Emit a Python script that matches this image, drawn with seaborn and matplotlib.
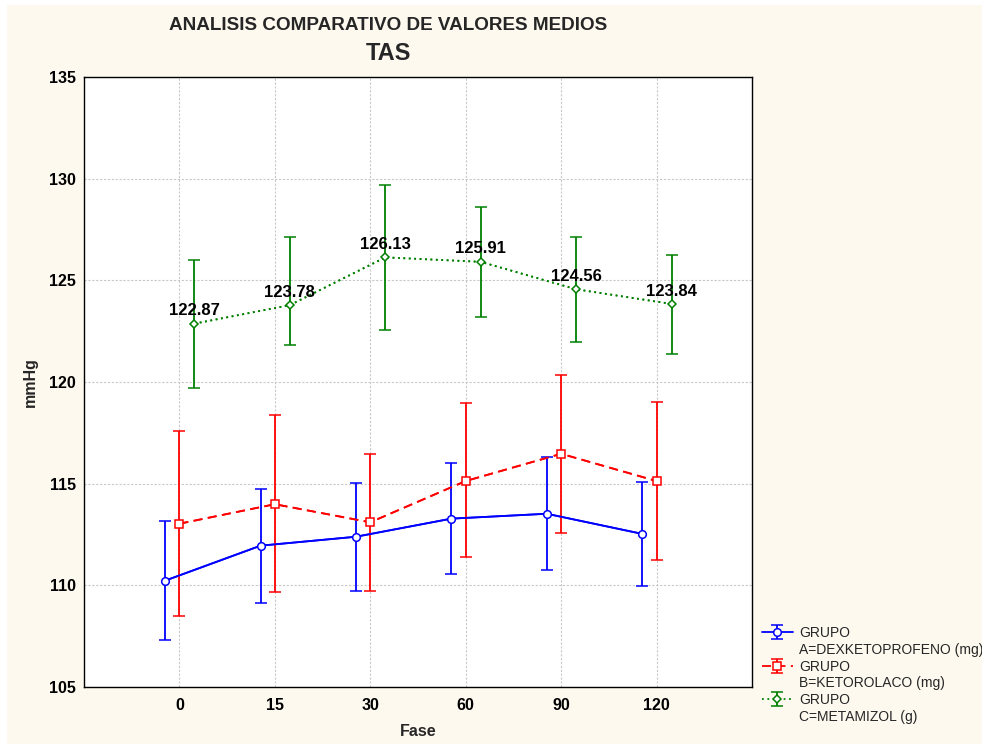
import numpy as np
import pandas as pd
import matplotlib
matplotlib.use("Agg")
import matplotlib.pyplot as plt
from matplotlib.patches import Rectangle
from matplotlib.lines import Line2D
import seaborn as sns

# ---- data ----
fases = ["0", "15", "30", "60", "90", "120"]
grupos = ["GRUPO\nA=DEXKETOPROFENO (mg)", "GRUPO\nB=KETOROLACO (mg)", "GRUPO\nC=METAMIZOL (g)"]

media_a = [110.23, 111.95, 112.39, 113.28, 113.52, 112.53]
inf_a = [107.31, 109.15, 109.74, 110.56, 110.75, 109.98]
sup_a = [113.18, 114.76, 115.05, 116.03, 116.31, 115.08]

media_b = [113.03, 113.99, 113.10, 115.13, 116.47, 115.13]
inf_b = [108.51, 109.66, 109.70, 111.41, 112.56, 111.26]
sup_b = [117.59, 118.38, 116.47, 118.95, 120.35, 119.03]

media_c = [122.87, 123.78, 126.13, 125.91, 124.56, 123.84]
inf_c = [119.72, 121.82, 122.55, 123.20, 121.95, 121.38]
sup_c = [125.99, 127.13, 129.69, 128.60, 127.13, 126.27]

# ---- styles ----
colores = ["#0000ff", "#ff0000", "#008000"]
desplaz = [-0.15, 0.0, 0.157]
marcadores = ["o", "s", "D"]
msizes = [5.5, 6, 4]
estilos = ["-", (0, (5, 3)), (0, (1, 2))]

sns.set_theme(style="white")
plt.rcParams["font.family"] = ["Liberation Sans", "DejaVu Sans"]

fig = plt.figure(figsize=(9.82, 7.44), dpi=100, facecolor="white")
fig.patches.append(Rectangle((7 / 982, 0), 1, 1 - 5 / 744, transform=fig.transFigure,
                             facecolor="#fdf9ef", edgecolor="none", zorder=-10))
ax = fig.add_axes([84 / 982, 1 - 687 / 744, (752 - 84) / 982, (687 - 77) / 744])
ax.set_facecolor("white")

rows = []
series = [(media_a, inf_a, sup_a), (media_b, inf_b, sup_b), (media_c, inf_c, sup_c)]
for g, (m, lo, hi) in zip(grupos, series):
    for i, f in enumerate(fases):
        rows.append({"grupo": g, "pos": i, "fase": f, "media": m[i], "inf": lo[i], "sup": hi[i]})
df = pd.DataFrame(rows)

handles = []
for k, g in enumerate(grupos):
    d = df[df["grupo"] == g].copy()
    d["x"] = d["pos"] + desplaz[k]
    sns.lineplot(data=d, x="x", y="media", ax=ax, color=colores[k], linestyle=estilos[k],
                 linewidth=1.3, marker=None, legend=False, zorder=3)
    eb = ax.errorbar(d["x"], d["media"],
                     yerr=[d["media"] - d["inf"], d["sup"] - d["media"]],
                     fmt=marcadores[k], color=colores[k], ecolor=colores[k],
                     markerfacecolor="white", markeredgecolor=colores[k],
                     markersize=msizes[k], markeredgewidth=1.1,
                     elinewidth=1.3, capsize=4, capthick=1.3, zorder=4,
                     linestyle=estilos[k], linewidth=1.3)
    handles.append(eb)

for i, v in enumerate(media_c):
    ax.annotate(f"{v:.2f}", (i + desplaz[2], v), xytext=(0, 6), textcoords="offset points",
                ha="center", va="baseline", fontsize=12, fontweight="bold", color="black", zorder=5)

ax.set_xlim(-1, 6)
ax.set_ylim(105, 135)
ax.set_xticks(range(len(fases)))
ax.set_xticklabels(fases)
ax.set_yticks(np.arange(105, 136, 5))
ax.tick_params(axis="both", direction="in", length=3, width=0.8, labelsize=11.5,
               colors="black")
ax.tick_params(axis="y", pad=6)
ax.tick_params(axis="x", pad=8)
for lab in ax.get_xticklabels() + ax.get_yticklabels():
    lab.set_fontweight("bold")
ax.grid(True, color="#c8c8c8", linestyle=(0, (2, 1.5)), linewidth=0.8)
ax.set_axisbelow(True)
for s in ax.spines.values():
    s.set_color("black")
    s.set_linewidth(1.0)

ax.set_xlabel("Fase", fontsize=11.5, fontweight="bold", labelpad=8)
ax.set_ylabel("mmHg", fontsize=11.5, fontweight="bold", labelpad=8)

fig.text(388 / 982, 1 - 26 / 744, "ANALISIS COMPARATIVO DE VALORES MEDIOS",
         ha="center", va="center", fontsize=13.6, fontweight="bold")
fig.text(388 / 982, 1 - 53 / 744, "TAS", ha="center", va="center",
         fontsize=17, fontweight="bold")

# legend: handle next to "GRUPO", second line without handle
blank = Line2D([], [], linestyle="none", marker=None)
leg_handles, leg_labels = [], []
for h, g in zip(handles, grupos):
    first, second = g.split("\n")
    leg_handles += [h, blank]
    leg_labels += [first, second]
leg = fig.legend(leg_handles, leg_labels, loc="upper left",
                 bbox_to_anchor=(762 / 982, 1 - 626 / 744),
                 frameon=False, fontsize=10, handlelength=2.2, handletextpad=0.45,
                 labelspacing=0.2, borderaxespad=0, borderpad=0)

fig.savefig("out.png", dpi=100, facecolor=fig.get_facecolor())
